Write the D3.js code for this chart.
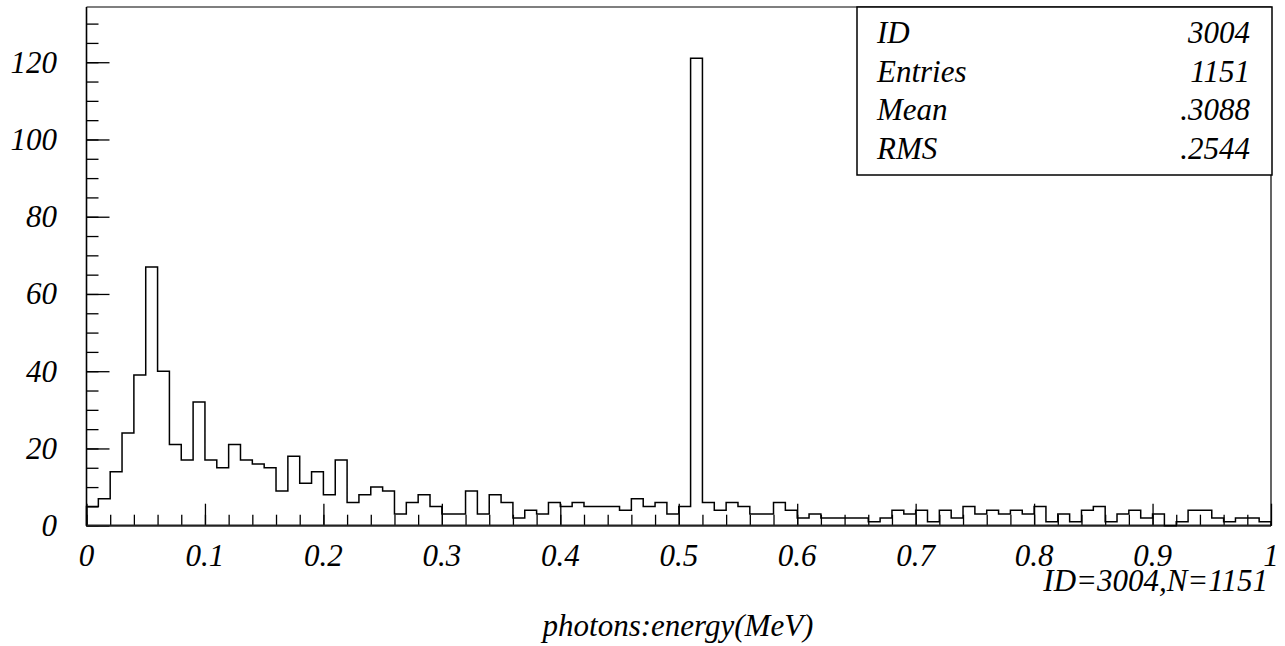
<!DOCTYPE html>
<html>
<head>
<meta charset="utf-8">
<script src="https://cdn.jsdelivr.net/npm/d3@7"></script>
<style>
  html, body { margin: 0; padding: 0; background: #fff; }
  svg { display: block; }
  text { font-family: "Liberation Serif", "Times New Roman", serif; font-style: italic; fill: #000; }
</style>
</head>
<body>
<svg id="chart" width="1285" height="646"></svg>
<script>
// Histogram 3004: photon energy spectrum, 100 bins of 0.01 MeV from 0 to 1 MeV
const binLow = 0;
const binWidth = 0.01;
const counts = [
  5, 7, 14, 24, 39, 67, 40, 21, 17, 32,
  17, 15, 21, 17, 16, 15, 9, 18, 11, 14,
  8, 17, 6, 8, 10, 9, 3, 6, 8, 5,
  3, 3, 9, 3, 8, 6, 2, 4, 3, 6,
  5, 6, 5, 5, 5, 4, 7, 5, 6, 3,
  5, 121, 6, 4, 6, 5, 3, 3, 6, 4,
  2, 3, 2, 2, 2, 2, 1, 2, 4, 3,
  4, 1, 4, 2, 5, 3, 4, 3, 4, 3,
  5, 1, 3, 1, 4, 5, 1, 3, 4, 2,
  3, 0, 1, 4, 4, 2, 1, 2, 2, 1
];

const xTickValues = [0, 0.1, 0.2, 0.3, 0.4, 0.5, 0.6, 0.7, 0.8, 0.9, 1];
const xTickLabels = ["0", "0.1", "0.2", "0.3", "0.4", "0.5", "0.6", "0.7", "0.8", "0.9", "1"];
const yTickValues = [0, 20, 40, 60, 80, 100, 120];
const yTickLabels = ["0", "20", "40", "60", "80", "100", "120"];

const statNames = ["ID", "Entries", "Mean", "RMS"];
const statValues = ["3004", "1151", ".3088", ".2544"];

const xAxisTitle = "photons:energy(MeV)";
const histoTag = "ID=3004,N=1151";

// ---- layout ----
const svg = d3.select("#chart");
const frame = { left: 86.5, right: 1271, top: 7, bottom: 525.7 };
const yMax = 134.3;

const x = d3.scaleLinear().domain([0, 1]).range([frame.left, frame.right]);
const y = d3.scaleLinear().domain([0, yMax]).range([frame.bottom, frame.top]);

// frame (top and right sides)
svg.append("path")
  .attr("d", `M${frame.left},${frame.top}H${frame.right}V${frame.bottom}`)
  .attr("fill", "none").attr("stroke", "#000").attr("stroke-width", 1.2);

// y axis: major ticks every 20, minor every 5, pointing into the frame
const yMinor = d3.range(0, yMax, 5);
svg.append("g")
  .attr("transform", `translate(${frame.left},0)`)
  .call(d3.axisLeft(y).tickValues(yMinor).tickSize(-12).tickFormat("").tickSizeOuter(0))
  .call(g => g.select(".domain").remove())
  .call(g => g.selectAll("line").attr("stroke", "#000").attr("stroke-width", 1.3));
svg.append("g")
  .attr("transform", `translate(${frame.left},0)`)
  .call(d3.axisLeft(y).tickValues(yTickValues).tickSize(-23).tickFormat("").tickSizeOuter(0))
  .call(g => g.select(".domain").remove())
  .call(g => g.selectAll("line").attr("stroke", "#000").attr("stroke-width", 1.3));

// x axis: major ticks every 0.1, minor every 0.02
const xMinor = d3.range(0, 50).map(i => i * 0.02);
svg.append("g")
  .attr("transform", `translate(0,${frame.bottom})`)
  .call(d3.axisBottom(x).tickValues(xMinor).tickSize(-11).tickFormat("").tickSizeOuter(0))
  .call(g => g.select(".domain").remove())
  .call(g => g.selectAll("line").attr("stroke", "#000").attr("stroke-width", 1.3));
svg.append("g")
  .attr("transform", `translate(0,${frame.bottom})`)
  .call(d3.axisBottom(x).tickValues(xTickValues).tickSize(-22).tickFormat("").tickSizeOuter(0))
  .call(g => g.select(".domain").remove())
  .call(g => g.selectAll("line").attr("stroke", "#000").attr("stroke-width", 1.3));

// axis lines
svg.append("line")
  .attr("x1", frame.left).attr("x2", frame.left)
  .attr("y1", frame.top).attr("y2", frame.bottom)
  .attr("stroke", "#000").attr("stroke-width", 1.6);
svg.append("line")
  .attr("x1", frame.left).attr("x2", frame.right)
  .attr("y1", frame.bottom).attr("y2", frame.bottom)
  .attr("stroke", "#222").attr("stroke-width", 2.2);

// histogram outline, drawn as a step path from the bin edges
const stepPath = [[x(binLow), y(0)]];
counts.forEach((c, i) => {
  const lo = binLow + i * binWidth;
  stepPath.push([x(lo), y(c)]);
  stepPath.push([x(lo + binWidth), y(c)]);
});
stepPath.push([x(binLow + counts.length * binWidth), y(0)]);
svg.append("path")
  .attr("d", d3.line()(stepPath))
  .attr("fill", "none")
  .attr("stroke", "#000")
  .attr("stroke-width", 1.5)
  .attr("stroke-linejoin", "miter");

// tick labels
svg.append("g").selectAll("text")
  .data(xTickValues)
  .join("text")
  .attr("x", d => x(d))
  .attr("y", 566)
  .attr("text-anchor", "middle")
  .attr("font-size", 31)
  .text((d, i) => xTickLabels[i]);

svg.append("g").selectAll("text")
  .data(yTickValues)
  .join("text")
  .attr("x", 57)
  .attr("y", d => y(d) + 10.5)
  .attr("text-anchor", "end")
  .attr("font-size", 31)
  .text((d, i) => yTickLabels[i]);

// statistics box
const box = { x0: 857, x1: 1272, y0: 7, y1: 175 };
svg.append("rect")
  .attr("x", box.x0).attr("y", box.y0)
  .attr("width", box.x1 - box.x0).attr("height", box.y1 - box.y0)
  .attr("fill", "#fff").attr("stroke", "#000").attr("stroke-width", 1.5);
const rowY = d3.scaleLinear().domain([0, 3]).range([43, 159]);
svg.append("g").selectAll("text")
  .data(statNames)
  .join("text")
  .attr("x", 877).attr("y", (d, i) => rowY(i))
  .attr("font-size", 31)
  .text(d => d);
svg.append("g").selectAll("text")
  .data(statValues)
  .join("text")
  .attr("x", 1250).attr("y", (d, i) => rowY(i))
  .attr("text-anchor", "end")
  .attr("font-size", 31)
  .text(d => d);

// histogram tag and axis title
svg.append("text")
  .attr("x", 1268).attr("y", 591)
  .attr("text-anchor", "end")
  .attr("font-size", 31)
  .text(histoTag);
svg.append("text")
  .attr("x", 678).attr("y", 636)
  .attr("text-anchor", "middle")
  .attr("font-size", 31)
  .text(xAxisTitle);
</script>
</body>
</html>
